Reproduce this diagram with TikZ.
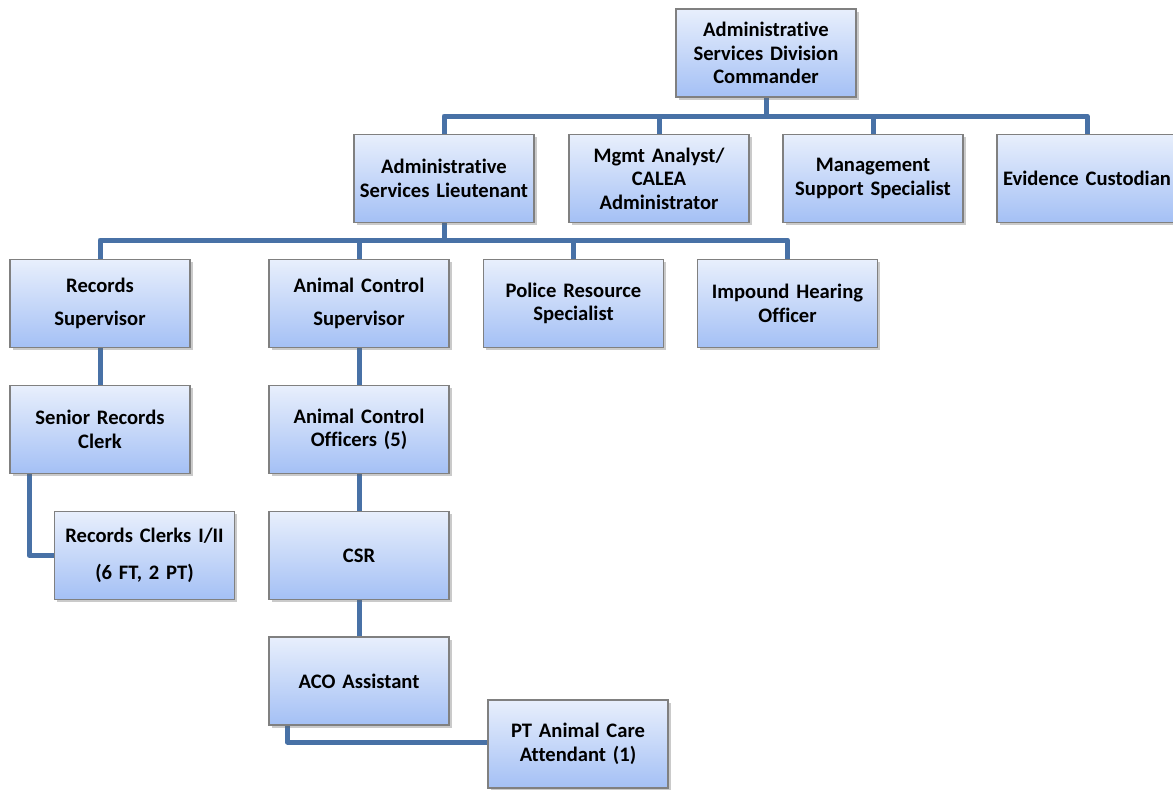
\documentclass[tikz,border=0pt]{standalone}
\usepackage{fontspec}
\setmainfont{Carlito}[Ligatures=NoCommon]
\usetikzlibrary{shadows,backgrounds}
\definecolor{boxtop}{RGB}{232,239,252}
\definecolor{boxbot}{RGB}{164,192,245}
\definecolor{boxline}{RGB}{128,128,128}
\definecolor{connblue}{RGB}{72,113,166}
\tikzset{
  unit/.style={rectangle, draw=boxline, line width=1.2pt,
    top color=boxtop, bottom color=boxbot,
    minimum width=178pt, minimum height=88pt, inner sep=2pt,
    text width=176pt, align=center,
    font=\fontsize{20.6}{23.5}\selectfont\bfseries,
    drop shadow={shadow xshift=2.5pt, shadow yshift=-2.5pt, opacity=0.35, fill=black!60}},
  conn/.style={draw=connblue, line width=5pt, line join=round, line cap=butt}
}
\begin{document}
\begin{tikzpicture}[x=1pt,y=-1pt]
\useasboundingbox (0,0) rectangle (1173,790);
\clip (0,0) rectangle (1173,790);

% bus junctions
\coordinate (busA) at (766,116);
\coordinate (busB) at (444,240);

% boxes
\node[unit] (cmd) at (766,53)  {Administrative\\Services Division\\Commander};
\node[unit] (lt)  at (444,178.5) {Administrative\\Services Lieutenant};
\node[unit] (ma)  at (659,178.5) {Mgmt Analyst/\\CALEA\\Administrator};
\node[unit] (mss) at (873,178.5) {Management\\Support Specialist};
\node[unit] (ec)  at (1087,178.5) {Evidence Custodian};
\node[unit] (rs)  at (100,303.5) {Records\\[9pt]Supervisor};
\node[unit] (acs) at (359,303.5) {Animal Control\\[9pt]Supervisor};
\node[unit] (prs) at (573.5,303.5) {Police Resource\\Specialist};
\node[unit] (iho) at (787.5,303.5) {Impound Hearing\\Officer};
\node[unit] (src) at (100,429.5) {Senior Records\\Clerk};
\node[unit] (rc)  at (144.5,555.5) {\raisebox{-3pt}{Records Clerks I/II}\\[16pt](6 FT, 2 PT)};
\node[unit] (aco) at (359,429.5) {Animal Control\\Officers (5)};
\node[unit] (csr) at (359,555.5) {CSR};
\node[unit] (aca) at (359,681) {ACO Assistant};
\node[unit] (pt)  at (578,744) {PT Animal Care\\Attendant (1)};

% connectors drawn behind the boxes
\begin{pgfonlayer}{background}
\draw[conn] (cmd.south) -- (busA);
\draw[conn] (busA) -| (lt.north);
\draw[conn] (busA) -| (ma.north);
\draw[conn] (busA) -| (mss.north);
\draw[conn] (busA) -| (ec.north);
\draw[conn] (lt.south) -- (busB);
\draw[conn] (busB) -| (rs.north);
\draw[conn] (busB) -| (acs.north);
\draw[conn] (busB) -| (prs.north);
\draw[conn] (busB) -| (iho.north);
\draw[conn] (rs.south) -- (src.north);
\draw[conn] ([xshift=20pt]src.south west) |- (rc.west);
\draw[conn] (acs.south) -- (aco.north);
\draw[conn] (aco.south) -- (csr.north);
\draw[conn] (csr.south) -- (aca.north);
\draw[conn] ([xshift=19pt]aca.south west) |- ([yshift=2pt]pt.west);
\end{pgfonlayer}
\end{tikzpicture}
\end{document}
